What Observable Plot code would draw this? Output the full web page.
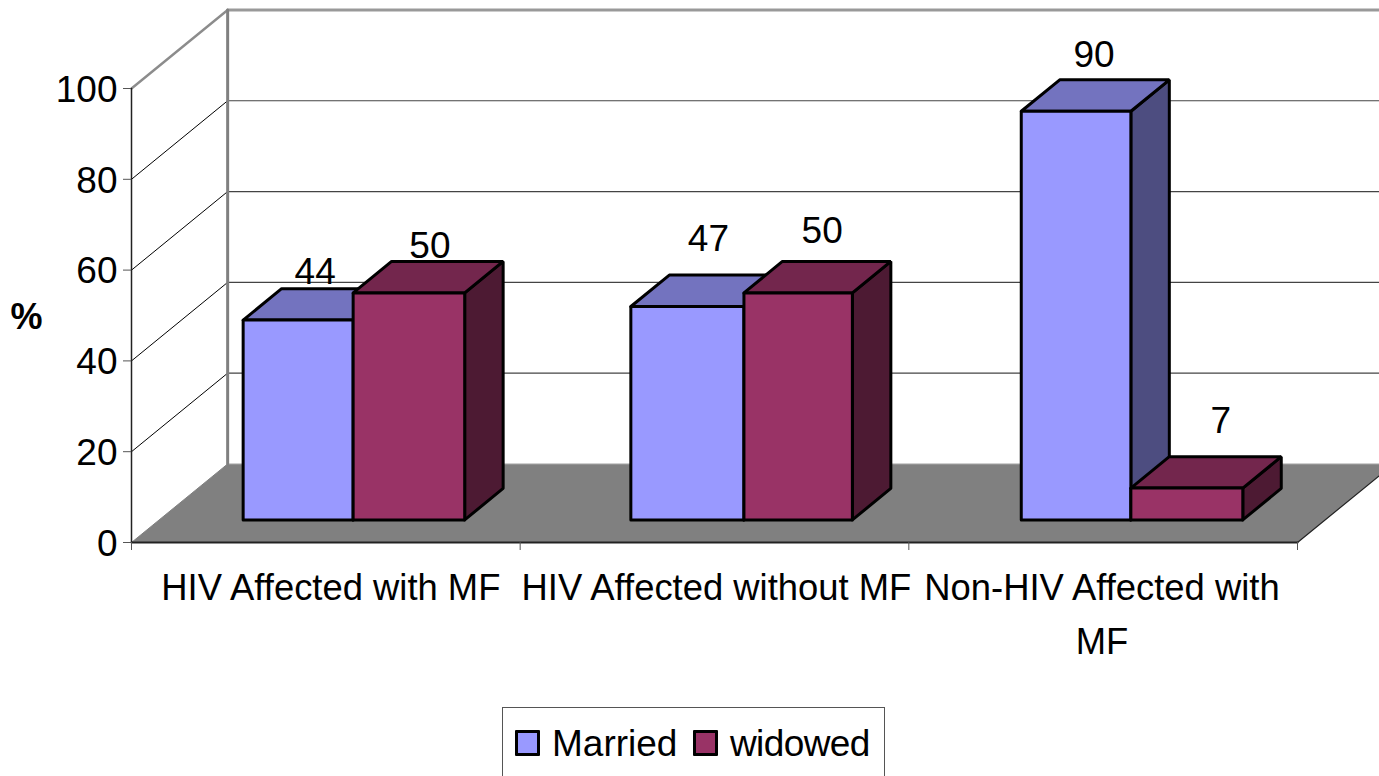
<!DOCTYPE html>
<html>
<head>
<meta charset="utf-8">
<script src="https://cdn.jsdelivr.net/npm/d3@7"></script>
<script src="https://cdn.jsdelivr.net/npm/@observablehq/plot@0.6"></script>
<style>
html,body{margin:0;padding:0;background:#fff;overflow:hidden;width:1379px;height:776px;font-family:"Liberation Sans",Arial,sans-serif;color:#000}
#chart svg{display:block}
#legend{position:absolute;left:502px;top:707px;width:381px;height:90px;border:1px solid #555;box-sizing:content-box;font-size:37px;line-height:1}
#legend .item{position:absolute;top:17px;white-space:nowrap}
#legend .sw{position:absolute;top:5px;left:0;width:19px;height:20px;border:3px solid #000;border-radius:1px}
#legend .lb{position:absolute;left:37px;top:0}
</style>
</head>
<body>
<div id="chart"></div>
<div id="legend"></div>
<script>
// Values
const categories = ["HIV Affected with MF", "HIV Affected without MF", "Non-HIV Affected with\nMF"];
const married = [44, 47, 90];
const widowed = [50, 50, 7];
const valueTicks = [0, 20, 40, 60, 80, 100];
const gridTicks = [20, 40, 60, 80];
const seriesNames = ["Married", "widowed"];

// Pseudo-3D projection expressed in scale units (category, value, depth 0..1)
const DEPTH_X = 0.2474, DEPTH_Y = 17.3;
const P = (u, v, d) => ({x: u + d * DEPTH_X, y: v + d * DEPTH_Y});
const BAR_D0 = 0.288, BAR_D = 0.4;
const GROUP_START = [0, 0.9975, 2.002];
const GROUP_EDGES = [[0.216, 0.499, 0.786], [0.216, 0.507, 0.786], [0.216, 0.498, 0.786]];

const palette = [
  {front: "#9999FF", top: "#7373BF", side: "#4D4D80"},
  {front: "#993366", top: "#73264D", side: "#4D1A33"}
];

const poly = (pts, opts) => Plot.line([...pts, pts[0]], {x: "x", y: "y", strokeLinejoin: "miter", ...opts});
const path = (pts, opts) => Plot.line(pts, {x: "x", y: "y", fill: "none", ...opts});

function barFaces(i, s, v) {
  const u0 = GROUP_START[i] + GROUP_EDGES[i][s], u1 = GROUP_START[i] + GROUP_EDGES[i][s + 1];
  const d0 = BAR_D0, d1 = BAR_D0 + BAR_D, c = palette[s];
  const edge = {stroke: "#000", strokeWidth: 3};
  return [
    poly([P(u1, 0, d0), P(u1, 0, d1), P(u1, v, d1), P(u1, v, d0)], {fill: c.side, ...edge}),
    poly([P(u0, v, d0), P(u1, v, d0), P(u1, v, d1), P(u0, v, d1)], {fill: c.top, ...edge}),
    poly([P(u0, 0, d0), P(u1, 0, d0), P(u1, v, d0), P(u0, v, d0)], {fill: c.front, ...edge})
  ];
}

const series = [married, widowed];
const bars = categories.flatMap((_, i) => [0, 1].flatMap(s => barFaces(i, s, series[s][i])));

// pixel nudges of the data labels relative to each bar's top front centre
const labelNudge = [[[17, -48], [21, -47]], [[21, -67], [24, -62]], [[18, -56], [34, -67]]];
const dataLabels = categories.flatMap((_, i) => [0, 1].map(s => {
  const v = series[s][i];
  const pos = P(GROUP_START[i] + (GROUP_EDGES[i][s] + GROUP_EDGES[i][s + 1]) / 2, v, BAR_D0);
  const [dx, dy] = labelNudge[i][s];
  return Plot.text([{...pos, t: String(v)}], {x: "x", y: "y", text: "t", dx, dy, fontSize: 37, fill: "#000"});
}));

const labelShift = [0, 0.008, 0.016];

const chart = Plot.plot({
  width: 1379,
  height: 708,
  marginLeft: 131,
  marginRight: 82,
  marginTop: 88,
  marginBottom: 166,
  x: {domain: [0, 3]},
  y: {domain: [0, 100]},
  style: {fontFamily: '"Liberation Sans", Arial, sans-serif', background: "#fff", color: "#000"},
  marks: [
    // floor
    poly([P(0, 0, 0), P(0, 0, 1), P(3, 0, 1), P(3, 0, 0)], {fill: "#808080", stroke: "none"}),
    path([P(0, 0, 1), P(3, 0, 1)], {stroke: "#aaa", strokeWidth: 1}),
    path([P(3, 0, 0), P(3, 0, 1)], {stroke: "#222", strokeWidth: 1.2}),
    // gridlines on the side and back walls
    ...gridTicks.flatMap(t => [
      path([P(0, t, 0), P(0, t, 1)], {stroke: "#000", strokeWidth: 1}),
      path([P(0, t, 1), P(3, t, 1)], {stroke: "#444", strokeWidth: 1.2})
    ]),
    // wall borders
    path([P(0, 0, 0), P(0, 0, 1)], {stroke: "#808080", strokeWidth: 1}),
    path([P(0, 100, 0), P(0, 100, 1)], {stroke: "#8c8c8c", strokeWidth: 2.4}),
    path([P(0, 100, 1), P(3, 100, 1)], {stroke: "#999", strokeWidth: 3}),
    path([P(0, 0, 1), P(0, 100, 1)], {stroke: "#808080", strokeWidth: 3}),
    ...bars,
    // front axis lines
    path([P(0, 0, 0), P(0, 100, 0)], {stroke: "#222", strokeWidth: 1.5}),
    path([P(0, 0, 0), P(3, 0, 0)], {stroke: "#222", strokeWidth: 2}),
    Plot.axisY({ticks: valueTicks, tickSize: 8, tickFormat: () => "", label: null, stroke: "#555"}),
    Plot.axisY(valueTicks, {tickSize: 0, tickPadding: 14, dy: 1.5, fontSize: 37, label: null, fill: "#000"}),
    Plot.axisX({ticks: [0, 1, 2, 3], tickSize: 8, tickFormat: () => "", label: null, stroke: "#555"}),
    Plot.axisX(categories.map((_, i) => i + 0.5 - labelShift[i]), {
      tickSize: 0, tickPadding: 20, fontSize: 36.4, dx: 5, lineHeight: 1.47, label: null, fill: "#000",
      tickFormat: u => categories[Math.floor(u)]
    }),
    ...dataLabels,
    Plot.text(["%"], {y: () => 50, frameAnchor: "left", dx: -105, dy: 2, textAnchor: "middle", fontSize: 36, fontWeight: "bold", fill: "#000"})
  ]
});
document.getElementById("chart").appendChild(chart);

const legend = document.getElementById("legend");
seriesNames.forEach((name, s) => {
  const item = document.createElement("div");
  item.className = "item";
  item.style.left = (s === 0 ? 12 : 190) + "px";
  const sw = document.createElement("span");
  sw.className = "sw";
  sw.style.background = palette[s].front;
  const lb = document.createElement("span");
  lb.className = "lb";
  lb.textContent = name;
  if (s === 1) lb.style.letterSpacing = "-0.6px";
  item.append(sw, lb);
  legend.appendChild(item);
});
</script>
</body>
</html>
